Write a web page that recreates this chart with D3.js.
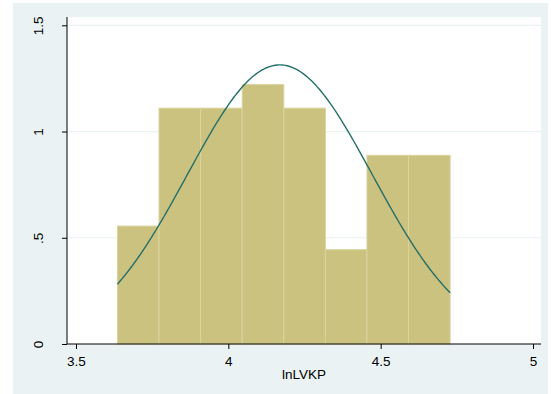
<!DOCTYPE html>
<html>
<head>
<meta charset="utf-8">
<script src="https://cdn.jsdelivr.net/npm/d3@7"></script>
<style>
  body { margin: 0; background: #fff; }
  svg { display: block; font-family: "Liberation Sans", Arial, sans-serif; }
</style>
</head>
<body>
<script>
// histogram of lnLVKP, density scale, with normal overlay
const binStart = 3.636
const binWidth = 0.1365
const densities = [0.555, 1.11, 1.11, 1.221, 1.11, 0.444, 0.888, 0.888]
const xTicks = [3.5, 4, 4.5, 5]
const yTicks = [0, 0.5, 1, 1.5]
const yTickLabels = ['0', '.5', '1', '1.5']
const gridTicks = [0.5, 1, 1.5]
const normMean = 4.169
const normSd = 0.3037
const xTitle = 'lnLVKP'

const W = 551, H = 394
const plot = { left: 67, right: 541, top: 17, bottom: 344 }

const svg = d3.select('body').append('svg')
  .attr('width', W)
  .attr('height', H)

// outer graph region
svg.append('rect')
  .attr('x', 13).attr('y', 3)
  .attr('width', 535).attr('height', 391)
  .attr('fill', '#eaf2f3')

svg.append('rect')
  .attr('x', plot.left).attr('y', plot.top)
  .attr('width', plot.right - plot.left).attr('height', plot.bottom - plot.top)
  .attr('fill', '#fff')

const x = d3.scaleLinear().domain([3.5, 5]).range([76, 533])
const y = d3.scaleLinear().domain([0, 1.5]).range([344, 25.3])

// grid
svg.append('g').selectAll('line')
  .data(gridTicks)
  .join('line')
  .attr('x1', plot.left).attr('x2', plot.right)
  .attr('y1', d => y(d)).attr('y2', d => y(d))
  .attr('stroke', '#eaf2f3')
  .attr('stroke-width', 1.2)

// bars
const bins = densities.map((d, i) => ({ x0: binStart + i * binWidth, x1: binStart + (i + 1) * binWidth, d }))
svg.append('g').selectAll('rect')
  .data(bins)
  .join('rect')
  .attr('x', d => x(d.x0))
  .attr('y', d => y(d.d))
  .attr('width', d => x(d.x1) - x(d.x0))
  .attr('height', d => y(0) - y(d.d))
  .attr('fill', '#cbc27f')
  .attr('stroke', '#d9d39c')
  .attr('stroke-width', 1)

// normal density overlay
const xs = d3.range(0, 201).map(i => binStart + i * (binWidth * densities.length) / 200)
const pdf = v => Math.exp(-0.5 * ((v - normMean) / normSd) ** 2) / (normSd * Math.sqrt(2 * Math.PI))
svg.append('path')
  .datum(xs)
  .attr('d', d3.line().x(d => x(d)).y(d => y(pdf(d))))
  .attr('fill', 'none')
  .attr('stroke', '#26706a')
  .attr('stroke-width', 1.4)

// axes
const yAxis = svg.append('g')
  .attr('transform', `translate(${plot.left},0)`)
  .call(d3.axisLeft(y).tickValues(yTicks).tickSize(5).tickFormat((d, i) => yTickLabels[i]))
yAxis.select('.domain').attr('d', `M0,${plot.top}V${plot.bottom}`).attr('stroke', '#000')
yAxis.selectAll('text')
  .attr('transform', 'translate(-24,0) rotate(-90)')
  .attr('x', 0).attr('y', 0).attr('dy', 0)
  .attr('text-anchor', 'middle')
  .attr('font-size', 13.5).attr('fill', '#000')

const xAxis = svg.append('g')
  .attr('transform', `translate(0,${plot.bottom})`)
  .call(d3.axisBottom(x).tickValues(xTicks).tickSize(5).tickFormat(d3.format('')))
xAxis.select('.domain').attr('d', `M${plot.left},0H${plot.right}`).attr('stroke', '#000')
xAxis.selectAll('text')
  .attr('y', 12)
  .attr('font-size', 13.5).attr('fill', '#000')

svg.append('text')
  .attr('x', (plot.left + plot.right) / 2)
  .attr('y', 379)
  .attr('text-anchor', 'middle')
  .attr('font-size', 13.5)
  .text(xTitle)
</script>
</body>
</html>
